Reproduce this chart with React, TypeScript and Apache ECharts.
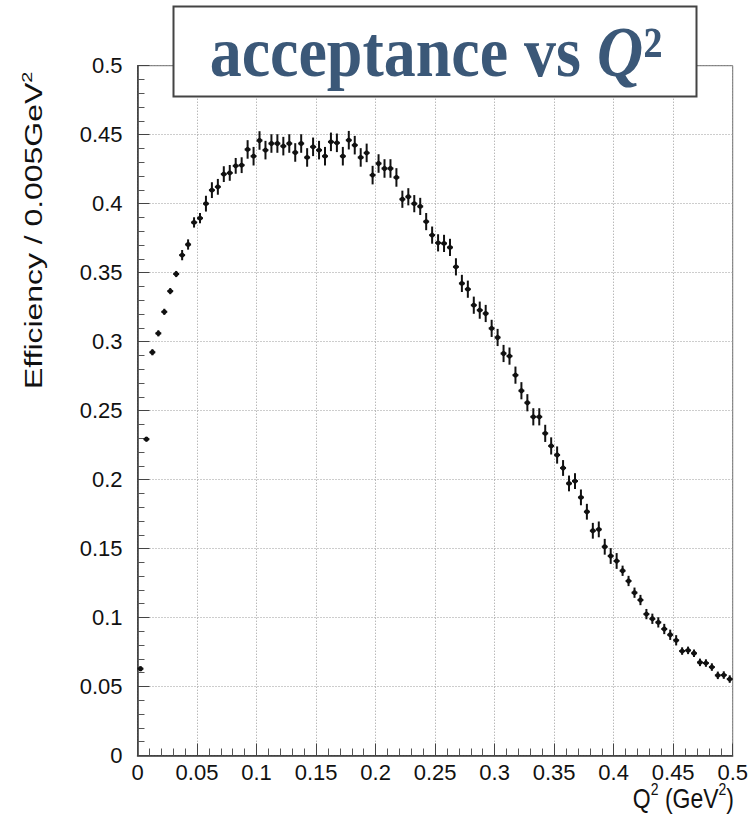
import React, { useEffect, useRef } from "react";
import * as echarts from "echarts";

// Bin width of the histogram (GeV^2)
const BIN_WIDTH = 0.005;

// Efficiency per bin (100 bins, 0 .. 0.5 GeV^2)
const efficiency: number[] = [
  0.0629, 0.2293, 0.2923, 0.306, 0.3216, 0.3366, 0.349, 0.3627, 0.3704, 0.3864,
  0.3895, 0.4, 0.4098, 0.4122, 0.4214, 0.4223, 0.4274, 0.4279, 0.4393, 0.4344,
  0.4458, 0.4388, 0.4436, 0.4436, 0.4417, 0.4436, 0.4371, 0.4436, 0.4335, 0.4412,
  0.4388, 0.4344, 0.4448, 0.4441, 0.4344, 0.446, 0.4424, 0.4335, 0.4368, 0.4207,
  0.4291, 0.4255, 0.4255, 0.419, 0.4032, 0.405, 0.4, 0.398, 0.387, 0.3772,
  0.3716, 0.3712, 0.3683, 0.3542, 0.3422, 0.338, 0.3264, 0.3228, 0.3204, 0.3096,
  0.303, 0.2914, 0.2895, 0.2757, 0.2644, 0.2557, 0.2455, 0.2455, 0.2335, 0.2244,
  0.2178, 0.2084, 0.1972, 0.1989, 0.1871, 0.1767, 0.1629, 0.1639, 0.1513, 0.1446,
  0.141, 0.1339, 0.1265, 0.118, 0.1127, 0.1025, 0.0991, 0.0965, 0.0917, 0.0875,
  0.0835, 0.0757, 0.0762, 0.0741, 0.0675, 0.067, 0.0641, 0.0581, 0.0583, 0.0554,
];

// Statistical error per bin
const errors: number[] = [
  0.001, 0.001, 0.0015, 0.0015, 0.0015, 0.0015, 0.0015, 0.003, 0.003, 0.003,
  0.003, 0.005, 0.005, 0.005, 0.005, 0.005, 0.005, 0.005, 0.006, 0.006,
  0.006, 0.006, 0.006, 0.006, 0.006, 0.006, 0.006, 0.006, 0.006, 0.006,
  0.006, 0.006, 0.006, 0.006, 0.006, 0.006, 0.006, 0.006, 0.006, 0.006,
  0.006, 0.006, 0.006, 0.006, 0.0055, 0.0055, 0.0055, 0.0055, 0.0055, 0.0055,
  0.0055, 0.0055, 0.0055, 0.0055, 0.0055, 0.0055, 0.0055, 0.0055, 0.0055, 0.0055,
  0.0055, 0.0055, 0.0055, 0.0055, 0.0055, 0.0055, 0.0055, 0.0055, 0.0055, 0.0055,
  0.0055, 0.005, 0.005, 0.005, 0.005, 0.005, 0.005, 0.005, 0.005, 0.005,
  0.005, 0.003, 0.003, 0.003, 0.003, 0.003, 0.003, 0.003, 0.003, 0.003,
  0.003, 0.002, 0.002, 0.002, 0.002, 0.002, 0.002, 0.002, 0.002, 0.002,
];

// Axis ranges and tick step
const xRange = [0, 0.5];
const yRange = [0, 0.5];
const tickStep = 0.05;

const TITLE_MAIN = "acceptance vs ";
const TITLE_VAR = "Q";
const Y_TITLE = "Efficiency / 0.005GeV";
const X_TITLE_Q = "Q";
const X_TITLE_UNIT = " (GeV";

const SANS = "'Liberation Sans', Arial, Helvetica, sans-serif";
const SERIF = "'Liberation Serif', 'Times New Roman', serif";

export default function App() {
  const ref = useRef<HTMLDivElement>(null);

  useEffect(() => {
    if (!ref.current) return;
    const chart = echarts.init(ref.current, undefined, { renderer: "svg" });

    const data = efficiency.map((v, i) => [
      (i + 0.5) * BIN_WIDTH,
      v,
      errors[i],
    ]);

    const fmt = (v: number) => String(+v.toFixed(3));

    const axisCommon = {
      type: "value",
      interval: tickStep,
      axisLine: { show: true, lineStyle: { color: "#333", width: 1.5 } },
      axisTick: { show: true, inside: true, length: 12, lineStyle: { color: "#444", width: 1 } },
      minorTick: { show: true, splitNumber: 5, length: 7, lineStyle: { color: "#555", width: 1 } },
      splitLine: { show: true, lineStyle: { color: "#9a9a9a", type: [1, 2], width: 1 } },
    };

    chart.setOption({
      animation: false,
      backgroundColor: "#ffffff",
      grid: {
        left: 137.5,
        right: 16.5,
        top: 65.7,
        bottom: 62.5,
        show: true,
        borderColor: "#666",
        borderWidth: 1,
        backgroundColor: "transparent",
      },
      xAxis: {
        ...axisCommon,
        min: xRange[0],
        max: xRange[1],
        axisLabel: {
          fontFamily: SANS,
          fontSize: 22,
          color: "#111",
          margin: 6,
          formatter: fmt,
        },
      },
      yAxis: {
        ...axisCommon,
        min: yRange[0],
        max: yRange[1],
        axisLabel: {
          fontFamily: SANS,
          fontSize: 22,
          color: "#111",
          margin: 15,
          formatter: fmt,
        },
      },
      series: [
        {
          type: "custom",
          data,
          clip: false,
          renderItem: (params: any, api: any) => {
            const x = api.value(0);
            const y = api.value(1);
            const e = api.value(2);
            const c = api.coord([x, y]);
            const lo = api.coord([x, y - e]);
            const hi = api.coord([x, y + e]);
            const l = api.coord([x - BIN_WIDTH / 2, y]);
            const r = api.coord([x + BIN_WIDTH / 2, y]);
            const st = { stroke: "#111", lineWidth: 2 };
            return {
              type: "group",
              children: [
                { type: "line", shape: { x1: c[0], y1: hi[1] - 1, x2: c[0], y2: lo[1] + 1 }, style: st },
                { type: "line", shape: { x1: l[0], y1: c[1], x2: r[0], y2: c[1] }, style: st },
                { type: "circle", shape: { cx: c[0], cy: c[1], r: 2.5 }, style: { fill: "#111" } },
              ],
            };
          },
        },
      ],
      graphic: [
        {
          type: "text",
          x: 34,
          y: 389,
          rotation: Math.PI / 2,
          scaleX: 1.33,
          style: {
            text: `{a|${Y_TITLE}}{s|2}`,
            align: "left",
            verticalAlign: "middle",
            rich: {
              a: { fontFamily: SANS, fontSize: 24, lineHeight: 30, fill: "#111", verticalAlign: "middle" },
              s: { fontFamily: SANS, fontSize: 15, lineHeight: 15, fill: "#111", verticalAlign: "top" },
            },
          },
        },
        {
          type: "text",
          x: 734,
          y: 798,
          scaleY: 1.22,
          style: {
            text: `{a|${X_TITLE_Q}}{s|2}{a|${X_TITLE_UNIT}}{s|2}{a|)}`,
            align: "right",
            verticalAlign: "middle",
            rich: {
              a: { fontFamily: SANS, fontSize: 23, lineHeight: 28, fill: "#111", verticalAlign: "middle" },
              s: { fontFamily: SANS, fontSize: 14, lineHeight: 14, fill: "#111", verticalAlign: "top" },
            },
          },
        },
        {
          type: "rect",
          shape: { x: 173.5, y: 6.5, width: 523, height: 90 },
          style: { fill: "#ffffff", stroke: "#444", lineWidth: 2 },
          z: 10,
        },
        {
          type: "text",
          x: 436,
          y: 52,
          scaleY: 1.13,
          z: 11,
          style: {
            text: `{n|${TITLE_MAIN}}{q|${TITLE_VAR}}{s|²}`,
            align: "center",
            verticalAlign: "middle",
            rich: {
              n: { fontFamily: SERIF, fontWeight: "bold", fontSize: 64, fill: "#3b5878" },
              q: { fontFamily: SERIF, fontWeight: "bold", fontStyle: "italic", fontSize: 64, fill: "#3b5878" },
              s: { fontFamily: SERIF, fontWeight: "bold", fontSize: 64, fill: "#3b5878" },
            },
          },
        },
      ],
    });

    return () => chart.dispose();
  }, []);

  return (
    <div
      ref={ref}
      style={{ position: "absolute", left: 0, top: 0, width: 751, height: 818 }}
    />
  );
}
